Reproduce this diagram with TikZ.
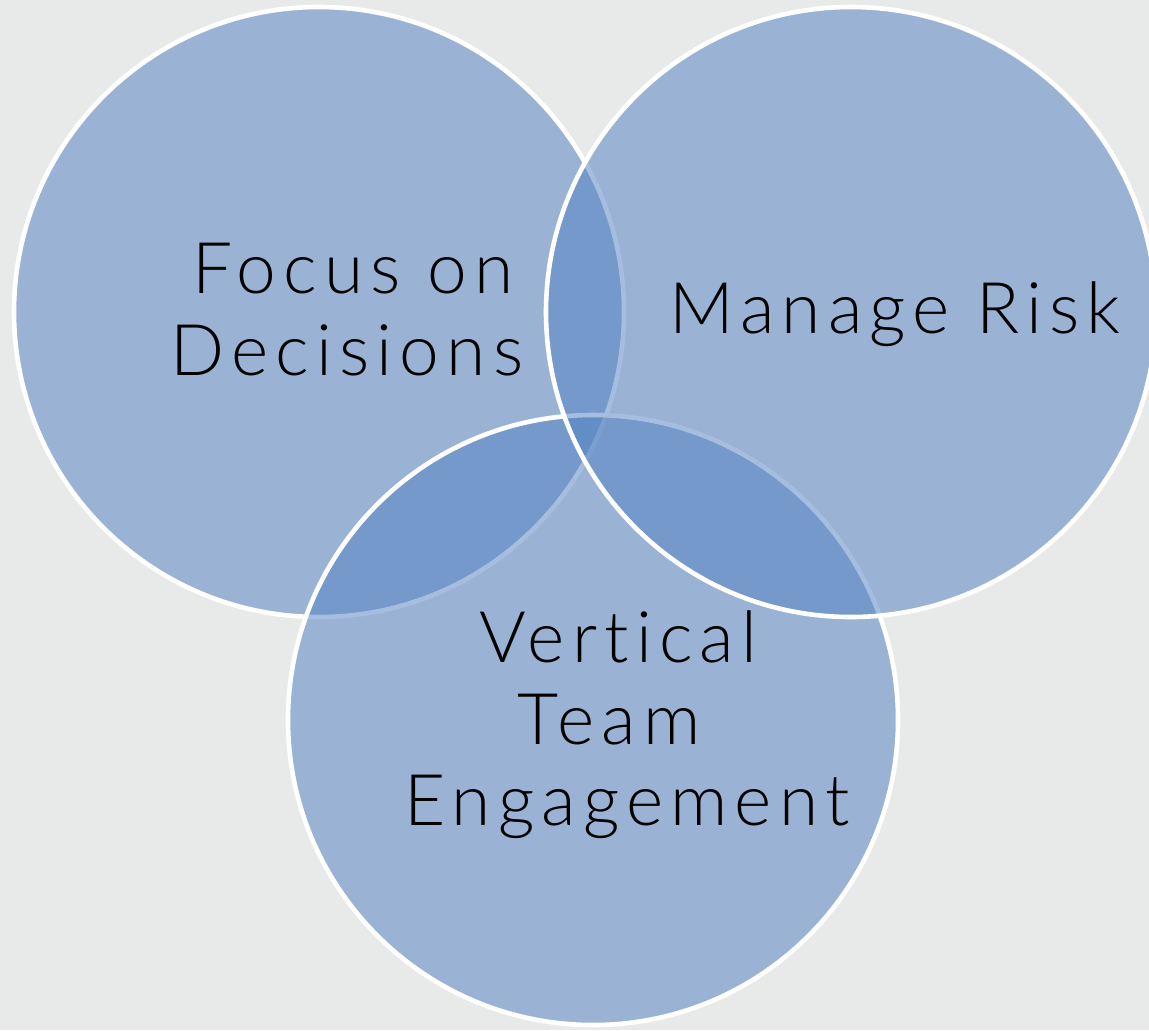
\documentclass[tikz,border=0pt]{standalone}
\usepackage{fontspec}
\setmainfont{Lato}[UprightFont=* Light, LetterSpace=10, Ligatures=NoCommon]
\definecolor{bgc}{RGB}{232,234,233}
\definecolor{vblue}{RGB}{84,130,193}
\begin{document}
\begin{tikzpicture}[x=0.5pt,y=-0.5pt,
  venn/.style={fill=vblue, fill opacity=0.52, draw=white, line width=2.3pt},
  lbl/.style={anchor=base, inner sep=0pt, text=black,
    font=\fontsize{35.6}{41}\selectfont}]
\fill[bgc] (0,0) rectangle (1149,1030);
\useasboundingbox (0,0) rectangle (1149,1030);
\begin{scope}
\clip (0,0) rectangle (1149,1030);
\draw[venn] (319,312) circle[radius=305];
\draw[venn] (593,720) circle[radius=305];
\draw[venn] (851,312) circle[radius=305];
\end{scope}
\node[lbl] (focus1) at (353,293) {Focus on};
\node[lbl] (focus2) at (347,375) {Decisions};
\node[lbl] (risk) at (895,333) {Manage Risk};
\node[lbl] (vte1) at (618,662) {Vertical};
\node[lbl] (vte2) at (609,744) {Team};
\node[lbl] (vte3) at (627,825) {Engagement};
\end{tikzpicture}
\end{document}
